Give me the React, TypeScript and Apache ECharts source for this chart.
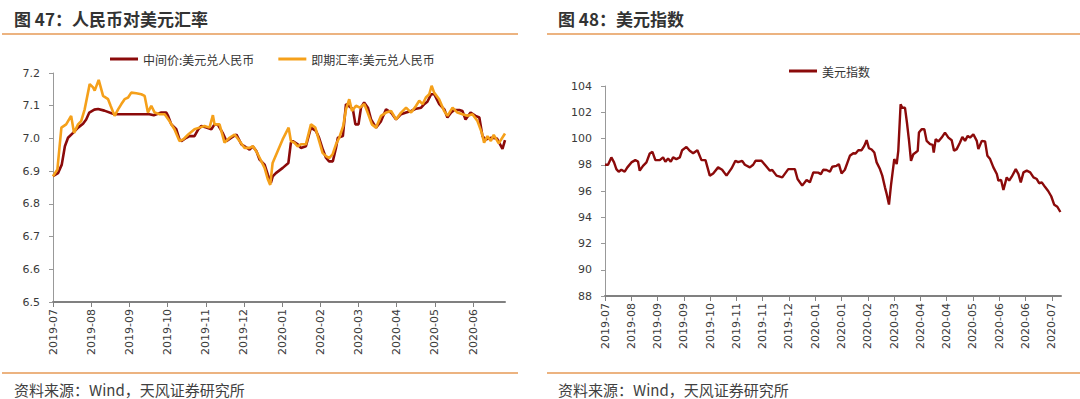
import React, { useEffect, useRef } from 'react';
import * as echarts from 'echarts';

// ---------- Left chart: 人民币对美元汇率 ----------
// x = days after the first observation; tick labels every cnyTickStep days
const cnyTickLabels = ['2019-07', '2019-08', '2019-09', '2019-10', '2019-11', '2019-12', '2020-01', '2020-02', '2020-03', '2020-04', '2020-05', '2020-06'];
const cnyTickStep = 30.5;
const cnyXMax = 361;

const cnyMid: [number, number][] = [
  [0, 6.885], [4, 6.894], [7, 6.92], [9.5, 6.976], [12, 7.002], [16, 7.017], [20, 7.033], [24, 7.045], [26.5, 7.058], [29, 7.079],
  [33, 7.088], [36, 7.09], [41, 7.085], [49, 7.074], [77, 7.074], [80.5, 7.071], [86.5, 7.079], [90.5, 7.079], [92, 7.068], [94.5, 7.043],
  [98.5, 7.028], [101, 6.997], [102.5, 6.992], [106.5, 7.002], [109, 7.007], [113, 7.007], [116, 7.028], [118.5, 7.038], [122.5, 7.033], [126.5, 7.028],
  [129, 7.043], [131.5, 7.043], [135.5, 7.017], [138.5, 6.992], [142.5, 7.002], [146.5, 7.012], [150.5, 6.982], [153, 6.976], [157, 6.966], [159.5, 6.976],
  [162.5, 6.961], [165, 6.935], [169, 6.92], [171.5, 6.89], [174, 6.864], [175.5, 6.884], [178, 6.894], [183.5, 6.91], [188, 6.925], [190, 6.987],
  [191.5, 6.992], [195.5, 6.982], [198, 6.971], [202, 6.976], [206, 7.033], [210, 7.023], [212.5, 7.002], [215.5, 6.966], [218, 6.941], [220.5, 6.93],
  [223.5, 6.93], [226, 6.971], [227.5, 7.002], [231.5, 7.007], [234, 7.105], [236, 7.1], [239.5, 7.089], [241.5, 7.043], [244, 7.043], [246, 7.094],
  [248.5, 7.11], [251.5, 7.094], [254, 7.058], [258, 7.033], [262, 7.053], [266, 7.089], [270, 7.079], [274, 7.058], [278, 7.074], [282, 7.079],
  [286, 7.084], [290, 7.091], [294, 7.094], [296.5, 7.105], [299, 7.112], [302, 7.135], [304.5, 7.135], [308.5, 7.105], [312.5, 7.089], [315, 7.064],
  [318, 7.079], [320.5, 7.087], [324.5, 7.087], [327, 7.084], [329.5, 7.058], [333.5, 7.079], [337.5, 7.069], [340.5, 7.064], [343, 7.007], [345.5, 6.997],
  [350, 7.002], [354.5, 7.0], [359, 6.968], [361, 6.995],
];

const cnySpot: [number, number][] = [
  [0, 6.884], [3.5, 6.905], [6.7, 7.033], [10.5, 7.043], [14.5, 7.069], [16.8, 7.017], [20, 7.043], [22.5, 7.053], [25.3, 7.089], [29.3, 7.166],
  [32, 7.156], [33.3, 7.146], [36.5, 7.179], [40, 7.13], [44, 7.12], [46, 7.1], [49.2, 7.069], [52, 7.089], [54.6, 7.105], [57.2, 7.12],
  [60, 7.125], [62.5, 7.14], [66.5, 7.138], [70.5, 7.135], [73.2, 7.13], [75.8, 7.079], [78.5, 7.1], [81.2, 7.079], [85.2, 7.074], [89.2, 7.074],
  [93, 7.053], [97, 7.028], [101, 6.992], [104, 6.997], [108, 7.012], [113, 7.028], [117, 7.033], [121, 7.038], [125, 7.033], [127.7, 7.071],
  [129, 7.043], [133, 7.043], [137, 6.987], [141, 7.002], [145, 7.012], [149, 6.992], [153, 6.971], [157, 6.971], [159.7, 6.976], [162.3, 6.961],
  [165, 6.941], [169, 6.91], [171.5, 6.876], [173.5, 6.858], [175.4, 6.925], [179.4, 6.961], [183.4, 6.997], [188.2, 7.033], [190, 6.992], [192.7, 6.987],
  [195.4, 6.976], [198, 6.982], [202, 6.982], [206, 7.043], [209.5, 7.033], [212.6, 6.992], [215.3, 6.956], [218, 6.946], [220.6, 6.94], [223.3, 6.951],
  [226, 6.982], [228.6, 7.002], [231.8, 7.038], [234, 7.089], [236.6, 7.12], [238.8, 7.084], [242, 7.1], [245, 7.094], [248.6, 7.105], [251.3, 7.079],
  [254.7, 7.043], [258, 7.033], [262, 7.069], [266, 7.079], [270, 7.084], [274, 7.058], [278, 7.079], [282, 7.094], [286, 7.079], [290, 7.1],
  [292.5, 7.115], [295.2, 7.105], [297.8, 7.125], [300.5, 7.135], [302.4, 7.161], [304.4, 7.14], [308.4, 7.12], [312.4, 7.084], [315.1, 7.069], [319.1, 7.094],
  [323, 7.079], [327, 7.074], [331, 7.069], [335, 7.074], [339, 7.053], [342.5, 7.017], [344.3, 6.987], [347, 7.007], [349.7, 6.992], [352, 7.011],
  [356, 6.985], [361, 7.015],
];

// ---------- Right chart: 美元指数 ----------
const dxyTickLabels = ['2019-07', '2019-08', '2019-09', '2019-09', '2019-10', '2019-11', '2019-11', '2019-12', '2020-01', '2020-01', '2020-02', '2020-03', '2020-04', '2020-04', '2020-05', '2020-06', '2020-06', '2020-07'];
const dxyTickStep = 21.5;
const dxyXMax = 373;

const dxy: [number, number][] = [
  [0, 98.0], [2.5, 98.0], [5.2, 98.56], [7.4, 98.18], [9.3, 97.67], [11.2, 97.47], [13.4, 97.62], [16.1, 97.47], [18.3, 97.8], [21.6, 98.18],
  [24.8, 98.35], [27, 98.25], [28.4, 97.55], [31.1, 97.92], [33.9, 98.18], [36.6, 98.86], [38.8, 98.98], [41.2, 98.35], [44.8, 98.35], [47.5, 98.56],
  [49.4, 98.23], [51.6, 98.48], [53.8, 98.23], [55.7, 98.56], [58.4, 98.43], [61.2, 98.56], [63.1, 99.11], [66.6, 99.36], [69.3, 99.06], [72.1, 98.88],
  [75.6, 99.11], [78.9, 98.35], [82.2, 98.35], [85.7, 97.17], [88.5, 97.34], [92.5, 97.8], [95.8, 97.62], [99.4, 97.17], [103.5, 97.72], [106.7, 98.3],
  [108.9, 98.2], [112.2, 98.3], [114.4, 98.0], [118.5, 97.8], [121.2, 98.0], [123.1, 98.3], [128, 98.3], [130.8, 98.0], [134.9, 97.55], [136.8, 97.6],
  [140.3, 97.17], [145, 97.04], [149.9, 97.67], [155.3, 97.67], [157.5, 96.91], [161.3, 96.41], [164.9, 96.84], [167.6, 96.66], [170.4, 97.42], [174.4, 97.4],
  [176.6, 97.29], [178.5, 97.62], [181.2, 97.6], [184, 97.47], [185.9, 97.85], [189.4, 97.92], [191.3, 98.05], [193.5, 97.34], [196.2, 97.62], [200.3, 98.68],
  [203.1, 98.88], [205, 98.86], [207.2, 99.11], [209.9, 99.11], [212.1, 99.44], [214, 99.87], [215.9, 99.26], [218.1, 99.16], [220.3, 98.93], [222.2, 98.18],
  [224.9, 97.67], [226.8, 97.17], [229, 96.28], [230.4, 95.78], [232.3, 94.97], [233.9, 96.41], [236.6, 98.43], [238.6, 98.05], [239.9, 99.06], [241.8, 102.6],
  [243.2, 102.34], [245.4, 102.34], [247, 101.2], [248.7, 99.82], [250.3, 98.3], [252.2, 98.8], [254.1, 98.93], [255.8, 99.06], [256.8, 100.45], [259, 100.7],
  [261.2, 100.7], [263.1, 99.82], [265.9, 99.57], [268, 99.52], [268.9, 98.93], [270.5, 99.94], [272.7, 99.77], [275.4, 100.07], [278.1, 100.45], [280.9, 100.07],
  [283.6, 99.87], [285.5, 99.06], [287.7, 99.19], [290.4, 99.69], [292.3, 100.12], [294.5, 99.82], [296.7, 100.2], [298.6, 100.07], [301.3, 100.32], [304.1, 99.82],
  [305.4, 99.19], [308.2, 99.82], [310.9, 99.77], [312.8, 98.68], [315, 98.43], [317.7, 97.8], [320.5, 97.29], [321.8, 96.79], [324, 96.84], [325.9, 96.08],
  [328.6, 97.04], [330.6, 96.79], [332.7, 97.09], [336, 97.67], [338.2, 97.29], [340.1, 96.66], [342.3, 97.42], [345, 97.55], [347.8, 97.42], [350.5, 97.04],
  [353.2, 96.91], [355.1, 96.59], [357.3, 96.66], [360, 96.3], [362.5, 96.0], [365, 95.6], [367.5, 94.95], [370, 94.8], [372.5, 94.4],
];

const COLOR_MID = '#8B0A0A';
const COLOR_SPOT = '#F5A01A';
const RULE = '#E69A56';
const AXIS_TEXT = '#3a3a3a';
const CJK = '"Noto Sans CJK SC", "Noto Sans", sans-serif';
const NUM = '"DejaVu Sans", sans-serif';

function tickValues(labels: string[], step: number) {
  return labels.map((_, i) => i * step);
}

function labelFormatter(labels: string[], step: number) {
  return (v: number) => {
    const i = Math.round(v / step);
    if (Math.abs(v - i * step) > 0.01 || i < 0 || i >= labels.length) return '';
    return labels[i];
  };
}

export default function App() {
  const ref = useRef<HTMLDivElement>(null);

  useEffect(() => {
    if (!ref.current) return;
    const chart = echarts.init(ref.current, null, { renderer: 'svg' });

    const xAxisCommon = (labels: string[], step: number, max: number, gridIndex: number) => ({
      type: 'value',
      gridIndex,
      min: 0,
      max,
      interval: step,
      splitLine: { show: false },
      axisLine: { show: true, lineStyle: { color: '#808080', width: 2 } },
      axisTick: { show: true, length: 5, lineStyle: { color: '#808080', width: 1 }, customValues: tickValues(labels, step) },
      axisLabel: {
        rotate: 90,
        margin: 7,
        color: AXIS_TEXT,
        fontSize: 11,
        fontFamily: NUM,
        showMaxLabel: true,
        showMinLabel: true,
        hideOverlap: false,
        customValues: tickValues(labels, step),
        formatter: labelFormatter(labels, step),
      },
    });

    const yAxisCommon = (min: number, max: number, interval: number, digits: number, gridIndex: number) => ({
      type: 'value',
      gridIndex,
      min,
      max,
      interval,
      splitLine: { show: false },
      axisLine: { show: true, lineStyle: { color: '#999999', width: 1 } },
      axisTick: { show: true, length: 4, lineStyle: { color: '#999999' } },
      axisLabel: {
        color: AXIS_TEXT,
        fontSize: 11,
        fontFamily: NUM,
        margin: 13,
        formatter: (v: number) => v.toFixed(digits),
      },
    });

    chart.setOption({
      animation: false,
      backgroundColor: '#ffffff',
      grid: [
        { left: 53, top: 73, width: 452, height: 229, containLabel: false },
        { left: 605, top: 86, width: 456, height: 210, containLabel: false },
      ],
      legend: [
        {
          data: ['中间价:美元兑人民币', '即期汇率:美元兑人民币'],
          left: 105,
          top: 48,
          icon: 'rect',
          itemWidth: 28,
          itemHeight: 3,
          itemGap: 24,
          textStyle: { color: '#333', fontSize: 12, fontFamily: CJK },
        },
        {
          data: ['美元指数'],
          left: 784,
          top: 60,
          icon: 'rect',
          itemWidth: 28,
          itemHeight: 3,
          textStyle: { color: '#333', fontSize: 12, fontFamily: CJK },
        },
      ],
      xAxis: [
        xAxisCommon(cnyTickLabels, cnyTickStep, cnyXMax, 0),
        xAxisCommon(dxyTickLabels, dxyTickStep, dxyXMax, 1),
      ],
      yAxis: [
        yAxisCommon(6.5, 7.2, 0.1, 1, 0),
        yAxisCommon(88, 104, 2, 0, 1),
      ],
      series: [
        {
          name: '中间价:美元兑人民币',
          type: 'line',
          xAxisIndex: 0,
          yAxisIndex: 0,
          data: cnyMid,
          showSymbol: false,
          symbol: 'none',
          color: COLOR_MID,
          lineStyle: { color: COLOR_MID, width: 2.6 },
          z: 2,
        },
        {
          name: '即期汇率:美元兑人民币',
          type: 'line',
          xAxisIndex: 0,
          yAxisIndex: 0,
          data: cnySpot,
          showSymbol: false,
          symbol: 'none',
          color: COLOR_SPOT,
          lineStyle: { color: COLOR_SPOT, width: 2.6 },
          z: 3,
        },
        {
          name: '美元指数',
          type: 'line',
          xAxisIndex: 1,
          yAxisIndex: 1,
          data: dxy,
          showSymbol: false,
          symbol: 'none',
          color: COLOR_MID,
          lineStyle: { color: COLOR_MID, width: 2.4 },
        },
      ],
      graphic: [
        {
          type: 'text',
          style: { text: '图 47：人民币对美元汇率', x: 14, y: 18, verticalAlign: 'middle', font: `bold 17px ${CJK}`, fill: '#333333' },
        },
        {
          type: 'text',
          style: { text: '图 48：美元指数', x: 558, y: 18, verticalAlign: 'middle', font: `bold 17px ${CJK}`, fill: '#333333' },
        },
        { type: 'line', shape: { x1: 2, y1: 34, x2: 518, y2: 34 }, style: { stroke: RULE, lineWidth: 1.5 } },
        { type: 'line', shape: { x1: 547, y1: 34, x2: 1080, y2: 34 }, style: { stroke: RULE, lineWidth: 1.5 } },
        { type: 'line', shape: { x1: 2, y1: 373, x2: 518, y2: 373 }, style: { stroke: RULE, lineWidth: 1.5 } },
        { type: 'line', shape: { x1: 547, y1: 373, x2: 1080, y2: 373 }, style: { stroke: RULE, lineWidth: 1.5 } },
        {
          type: 'text',
          style: { text: '资料来源：Wind，天风证券研究所', x: 14, y: 389, verticalAlign: 'middle', font: `15px ${CJK}`, fill: '#404040' },
        },
        {
          type: 'text',
          style: { text: '资料来源：Wind，天风证券研究所', x: 558, y: 389, verticalAlign: 'middle', font: `15px ${CJK}`, fill: '#404040' },
        },
      ],
    });

    return () => chart.dispose();
  }, []);

  return (
    <div
      ref={ref}
      style={{ position: 'fixed', left: 0, top: 0, width: 1080, height: 399, background: '#ffffff' }}
    />
  );
}
